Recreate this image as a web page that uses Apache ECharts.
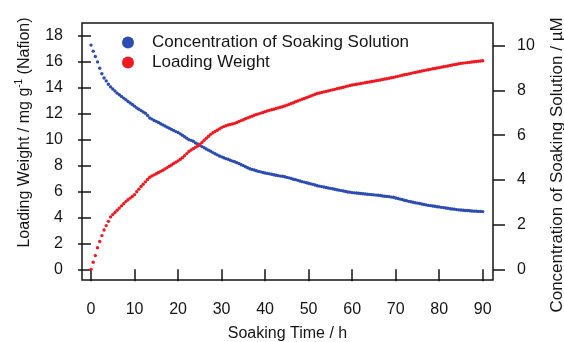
<!DOCTYPE html>
<html>
<head>
<meta charset="utf-8">
<script src="https://cdn.jsdelivr.net/npm/echarts@6/dist/echarts.min.js"></script>
<style>
html,body{margin:0;padding:0;background:#fff;}
#chart{width:564px;height:342px;}
</style>
</head>
<body>
<div id="chart"></div>
<script>
// Soaking time (h)
const timeH = [
0,0.5,1,1.5,2,2.5,3,3.5,4,4.5,5,5.5,6,6.5,7,7.5,8,8.5,9,9.5,
10,10.5,11,11.5,12,12.5,13,13.5,14,14.5,15,15.5,16,16.5,17,17.5,18,18.5,19,19.5,
20,20.5,21,21.5,22,22.5,23,23.5,24,24.5,25,25.5,26,26.5,27,27.5,28,28.5,29,29.5,
30,30.5,31,31.5,32,32.5,33,33.5,34,34.5,35,35.5,36,36.5,37,37.5,38,38.5,39,39.5,
40,40.5,41,41.5,42,42.5,43,43.5,44,44.5,45,45.5,46,46.5,47,47.5,48,48.5,49,49.5,
50,50.5,51,51.5,52,52.5,53,53.5,54,54.5,55,55.5,56,56.5,57,57.5,58,58.5,59,59.5,
60,60.5,61,61.5,62,62.5,63,63.5,64,64.5,65,65.5,66,66.5,67,67.5,68,68.5,69,69.5,
70,70.5,71,71.5,72,72.5,73,73.5,74,74.5,75,75.5,76,76.5,77,77.5,78,78.5,79,79.5,
80,80.5,81,81.5,82,82.5,83,83.5,84,84.5,85,85.5,86,86.5,87,87.5,88,88.5,89,89.5,
90];

// Concentration of soaking solution (µM), right axis
const concentration = [
10.03,9.76,9.52,9.28,9.00,8.75,8.56,8.43,8.28,8.16,
8.07,7.98,7.88,7.81,7.73,7.66,7.59,7.51,7.44,7.37,
7.30,7.22,7.16,7.10,7.04,6.98,6.88,6.77,6.72,6.66,
6.62,6.57,6.51,6.46,6.41,6.36,6.31,6.26,6.21,6.16,
6.12,6.06,6.00,5.93,5.86,5.80,5.77,5.73,5.65,5.61,
5.55,5.49,5.44,5.38,5.33,5.28,5.22,5.17,5.12,5.07,
5.03,4.99,4.95,4.92,4.88,4.84,4.81,4.77,4.73,4.68,
4.64,4.59,4.54,4.50,4.47,4.44,4.41,4.38,4.36,4.33,
4.31,
4.29,4.27,4.25,4.23,4.21,4.19,4.17,4.16,4.14,
4.11,4.09,4.06,4.03,4.01,3.98,3.95,3.92,
3.90,3.87,3.85,3.82,3.80,3.77,3.74,
3.72,3.70,3.68,3.66,3.64,3.62,3.60,3.58,
3.56,3.54,3.52,3.50,3.48,3.46,3.45,3.43,
3.42,3.41,3.40,3.39,3.38,3.37,
3.36,3.35,3.34,3.33,3.32,
3.31,3.30,3.28,3.27,3.26,3.25,3.23,3.22,
3.19,3.17,3.14,3.12,3.09,3.07,3.04,3.02,
3.00,2.98,2.96,2.94,2.92,2.90,2.88,
2.86,2.85,2.83,2.82,2.80,2.79,2.77,2.76,
2.74,2.73,2.71,2.70,2.69,2.67,2.66,2.65,
2.64,2.63,2.63,2.62,2.61,2.60,2.60,2.59,2.59,2.58];

// Loading weight (mg g-1 Nafion), left axis
const loadingWeight = [
0,0.55,1.06,1.67,2.15,2.60,3.03,3.37,3.70,4.04,
4.22,4.38,4.55,4.72,4.89,5.05,5.22,5.36,5.49,5.62,
5.76,5.98,6.18,6.38,6.56,6.74,6.92,7.10,7.20,7.28,
7.37,7.46,7.55,7.64,7.74,7.84,7.94,8.04,8.15,8.26,
8.36,8.48,8.60,8.75,8.92,9.08,9.20,9.30,9.40,9.50,
9.62,9.78,9.95,10.10,10.26,10.40,10.52,10.62,10.72,10.82,
10.92,11.00,11.06,11.12,11.16,11.20,11.25,
11.32,11.39,11.46,11.53,11.60,11.67,11.74,11.80,11.87,
11.93,11.98,12.04,12.09,12.15,12.20,
12.25,12.30,12.34,12.39,12.44,12.49,12.53,12.58,
12.65,12.71,12.78,12.84,12.91,12.97,13.04,13.10,
13.16,13.23,13.29,13.36,13.42,13.49,13.55,
13.59,13.63,13.67,13.71,13.75,13.79,13.83,13.87,
13.91,13.95,13.99,14.03,14.08,14.12,14.16,14.20,
14.23,14.26,14.29,14.32,14.35,14.38,
14.41,14.44,14.47,14.50,14.53,
14.56,14.59,14.63,14.66,14.69,14.72,14.76,14.79,
14.83,14.87,14.91,14.95,14.99,15.02,15.06,15.10,
15.14,15.17,15.21,15.24,15.28,15.31,15.35,
15.38,15.41,15.45,15.48,15.51,15.54,15.58,15.61,
15.64,15.67,15.71,15.74,15.77,15.80,15.84,15.87,
15.89,15.91,15.93,15.95,15.97,15.99,16.01,16.03,16.05,16.07];

const xTicks = [0,10,20,30,40,50,60,70,80,90];
const leftTicks = [0,2,4,6,8,10,12,14,16,18];
const rightTicks = [0,2,4,6,8,10];

const FONT = "'Liberation Sans', Arial, sans-serif";
const INK = '#151515';
const BLUE = '#2c4cb0';
const RED = '#ee1a22';

const blueData = timeH.map((t, i) => [t, concentration[i]]);
const redData = timeH.map((t, i) => [t, loadingWeight[i]]);

const chart = echarts.init(document.getElementById('chart'), null, {renderer: 'canvas'});
chart.setOption({
  animation: false,
  backgroundColor: '#fff',
  textStyle: {fontFamily: FONT, color: INK},
  grid: {left: 82, right: 71, top: 23, bottom: 62, containLabel: false, outerBoundsMode: 'none',
    show: true, borderColor: INK, borderWidth: 1.5, backgroundColor: 'transparent'},
  legend: {
    orient: 'vertical', left: 117, top: 29, itemGap: 3,
    itemWidth: 12, itemHeight: 12, icon: 'circle',
    itemStyle: {opacity: 1},
    textStyle: {fontFamily: FONT, fontSize: 17, color: INK, lineHeight: 17, padding: [0, 0, 0, 13]},
    data: ['Concentration of Soaking Solution', 'Loading Weight']
  },
  xAxis: {
    type: 'value', min: -2.07, max: 92.37,
    name: 'Soaking Time / h', nameLocation: 'middle', nameGap: 46,
    nameTextStyle: {fontFamily: FONT, fontSize: 16, color: INK},
    axisLine: {show: false},
    axisTick: {show: true, inside: false, length: 12, lineStyle: {color: INK, width: 1.5}, customValues: xTicks},
    axisLabel: {fontFamily: FONT, fontSize: 16, color: INK, margin: 22, customValues: xTicks},
    splitLine: {show: false}
  },
  yAxis: [
    {
      type: 'value', position: 'left', min: -0.82, max: 18.98,
      name: 'Loading Weight / mg g{sup|-1} (Nafion)', nameLocation: 'middle', nameGap: 46,
      nameTextStyle: {fontFamily: FONT, fontSize: 16, color: INK, lineHeight: 20, padding: [0, 0, 0, 38],
        rich: {sup: {fontFamily: FONT, fontSize: 10, color: INK, lineHeight: 10, verticalAlign: 'top'}}},
      axisLine: {show: false},
      axisTick: {show: true, inside: false, length: 13, lineStyle: {color: INK, width: 1.5}, customValues: leftTicks},
      axisLabel: {fontFamily: FONT, fontSize: 16, color: INK, margin: 19, customValues: leftTicks},
      splitLine: {show: false}
    },
    {
      type: 'value', position: 'right', min: -0.48, max: 11.02,
      name: 'Concentration of Soaking Solution / µM', nameLocation: 'middle', nameGap: 56,
      nameTextStyle: {fontFamily: FONT, fontSize: 17, color: INK, padding: [0, 27, 0, 0]},
      axisLine: {show: false},
      axisTick: {show: true, inside: false, length: 12, lineStyle: {color: INK, width: 1.5}, customValues: rightTicks},
      axisLabel: {fontFamily: FONT, fontSize: 16, color: INK, margin: 24, customValues: rightTicks},
      splitLine: {show: false}
    }
  ],
  series: [
    {
      name: 'Concentration of Soaking Solution', type: 'scatter', xAxisIndex: 0, yAxisIndex: 1,
      symbol: 'circle', symbolSize: 3.4, itemStyle: {color: BLUE, opacity: 1}, data: blueData
    },
    {
      name: 'Loading Weight', type: 'scatter', xAxisIndex: 0, yAxisIndex: 0,
      symbol: 'circle', symbolSize: 3.4, itemStyle: {color: RED, opacity: 1}, data: redData
    }
  ]
});
</script>
</body>
</html>
